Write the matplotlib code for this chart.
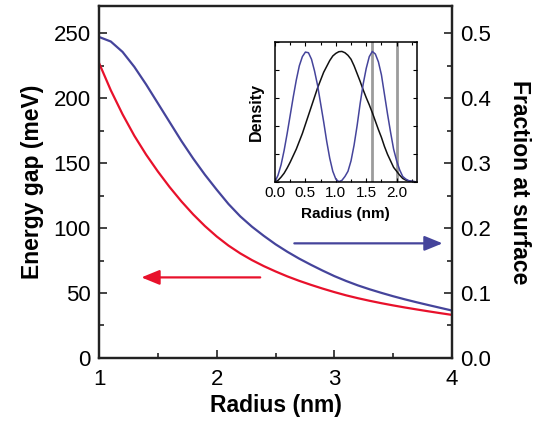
import matplotlib
matplotlib.use('Agg')
import matplotlib.pyplot as plt
from matplotlib.ticker import MultipleLocator, NullFormatter, FormatStrFormatter

plt.rcParams['font.family'] = ['Liberation Sans', 'DejaVu Sans']

# main panel: gap (left axis) and surface fraction (right axis) vs radius
radius = [1.0, 1.1, 1.2, 1.3, 1.4, 1.5, 1.6, 1.7, 1.8, 1.9, 2.0,
          2.1, 2.2, 2.3, 2.4, 2.5, 2.6, 2.7, 2.8, 2.9, 3.0,
          3.1, 3.2, 3.3, 3.4, 3.5, 3.6, 3.7, 3.8, 3.9, 4.0]
energy_gap = [227, 206, 187.5, 171, 156.5, 143.5, 131.5, 120.5, 110.5, 101.5, 93.5,
              86.5, 80.5, 75.3, 70.7, 66.6, 62.8, 59.4, 56.3, 53.4, 50.7,
              48.2, 46.0, 44.0, 42.15, 40.45, 38.85, 37.35, 35.9, 34.5, 33.15]
surface_fraction = [0.494, 0.487, 0.471, 0.448, 0.421, 0.392, 0.363, 0.334, 0.307, 0.282, 0.259,
                    0.237, 0.218, 0.202, 0.188, 0.175, 0.1635, 0.153, 0.1435, 0.1345, 0.126,
                    0.1185, 0.1117, 0.1057, 0.1002, 0.095, 0.0902, 0.0857, 0.0814, 0.0772, 0.073]

# inset: radial densities of the two states (peak normalised)
r_inset = [0.00, 0.05, 0.10, 0.15, 0.20, 0.25, 0.30, 0.35, 0.40, 0.45, 0.50,
           0.55, 0.60, 0.65, 0.70, 0.75, 0.80, 0.85, 0.90, 0.95, 1.00,
           1.05, 1.10, 1.15, 1.20, 1.25, 1.30, 1.35, 1.40, 1.45, 1.50,
           1.55, 1.60, 1.65, 1.70, 1.75, 1.80, 1.85, 1.90, 1.95, 2.00,
           2.05, 2.10, 2.15, 2.20, 2.25, 2.30]
density_1s = [0.00, 0.01, 0.035, 0.065, 0.105, 0.15, 0.20, 0.25, 0.31, 0.37, 0.44,
              0.51, 0.58, 0.65, 0.72, 0.78, 0.84, 0.885, 0.93, 0.965, 0.985,
              0.998, 1.00, 0.99, 0.97, 0.94, 0.89, 0.83, 0.77, 0.705, 0.645,
              0.59, 0.53, 0.465, 0.40, 0.34, 0.27, 0.21, 0.16, 0.11, 0.08,
              0.05, 0.025, 0.012, 0.005, 0.002, 0.00]
density_2s = [0.00, 0.05, 0.13, 0.24, 0.37, 0.51, 0.65, 0.78, 0.89, 0.96, 0.995,
              0.99, 0.94, 0.85, 0.74, 0.60, 0.46, 0.31, 0.18, 0.08, 0.02,
              0.00, 0.01, 0.04, 0.08, 0.16, 0.28, 0.43, 0.60, 0.75, 0.87,
              0.96, 1.00, 0.98, 0.92, 0.82, 0.67, 0.52, 0.38, 0.25, 0.16,
              0.09, 0.04, 0.02, 0.008, 0.003, 0.00]
shell_edges = [1.6, 2.0]

RED = '#e8112b'
BLUE = '#45449b'
GRAY = '#9c9c9c'

fig = plt.figure(figsize=(5.37, 4.24), dpi=100)
ax = fig.add_axes([0.1844, 0.1557, 0.6573, 0.8301])
ax.plot(radius, energy_gap, color=RED, lw=1.6)
ax.set_xlim(1, 4)
ax.set_ylim(0, 270.8)
ax.xaxis.set_major_locator(MultipleLocator(1))
ax.xaxis.set_minor_locator(MultipleLocator(0.5))
ax.yaxis.set_major_locator(MultipleLocator(50))
ax.yaxis.set_minor_locator(MultipleLocator(25))
ax.set_xlabel('Radius (nm)', fontsize=16.5, fontweight='bold', labelpad=3)
ax.set_ylabel('Energy gap (meV)', fontsize=16.5, fontweight='bold', labelpad=7)

ax2 = ax.twinx()
ax2.plot(radius, surface_fraction, color=BLUE, lw=1.6)
ax2.set_ylim(0, 0.5416)
ax2.yaxis.set_major_locator(MultipleLocator(0.1))
ax2.yaxis.set_minor_locator(MultipleLocator(0.05))
ax2.set_ylabel('Fraction at surface', fontsize=16.5, fontweight='bold',
               rotation=270, va='bottom', labelpad=12)

for a in (ax, ax2):
    for s in a.spines.values():
        s.set_linewidth(1.6)
        s.set_color('#222222')
    a.tick_params(which='both', direction='in', width=1.2, labelsize=16,
                  color='#222222')
    a.tick_params(which='major', length=6, pad=6)
    a.tick_params(which='minor', length=3.5)
ax.tick_params(axis='x', pad=8)

# arrows pointing at the axis each curve belongs to
ax.annotate('', xy=(1.36, 62), xytext=(2.37, 62),
            arrowprops=dict(arrowstyle='-|>,head_length=1.1,head_width=0.45',
                            mutation_scale=10, color=RED, lw=1.6,
                            shrinkA=0, shrinkB=0))
ax2.annotate('', xy=(3.92, 0.1764), xytext=(2.66, 0.1764),
             arrowprops=dict(arrowstyle='-|>,head_length=1.1,head_width=0.45',
                             mutation_scale=10, color=BLUE, lw=1.6,
                             shrinkA=0, shrinkB=0))

# inset
axin = fig.add_axes([0.5121, 0.5715, 0.2639, 0.3287])
axin.plot(r_inset, density_1s, color='#111111', lw=1.1)
axin.plot(r_inset, density_2s, color=BLUE, lw=1.1)
for edge in shell_edges:
    axin.axvline(edge, color=GRAY, lw=2.0, zorder=0)
axin.set_xlim(0, 2.33)
axin.set_ylim(0, 1.07)
axin.xaxis.set_major_locator(MultipleLocator(0.5))
axin.xaxis.set_minor_locator(MultipleLocator(0.25))
axin.yaxis.set_major_locator(MultipleLocator(1.07 / 5))
axin.yaxis.set_major_formatter(NullFormatter())
axin.xaxis.set_major_formatter(FormatStrFormatter('%.1f'))
for s in axin.spines.values():
    s.set_linewidth(1.1)
axin.tick_params(which='both', direction='in', top=True, right=True,
                 width=0.8, labelsize=11, pad=3)
axin.tick_params(which='major', length=3)
axin.tick_params(which='minor', length=2)
axin.set_xlabel('Radius (nm)', fontsize=11, fontweight='bold', labelpad=5)
axin.set_ylabel('Density', fontsize=11.5, fontweight='bold', labelpad=5)

fig.savefig('out.png', dpi=100)
